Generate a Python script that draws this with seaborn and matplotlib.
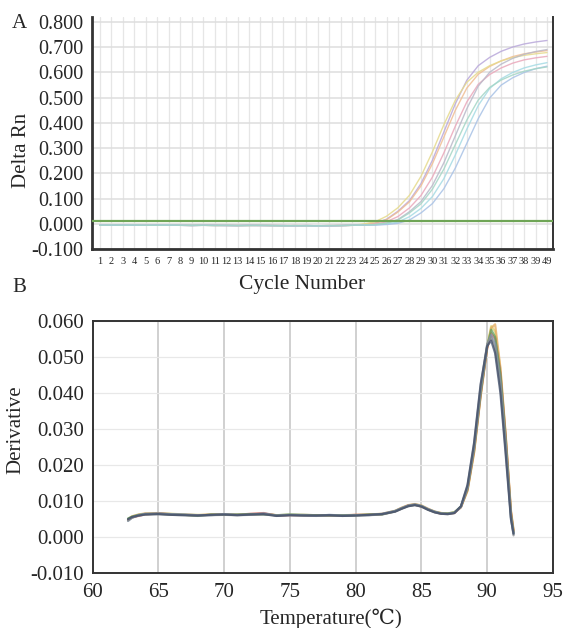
import pandas as pd
import matplotlib.pyplot as plt
import seaborn as sns

# ---------- data: panel A (amplification curves) ----------
cycles = list(range(1, 41))
cycle_labels = [str(c) for c in range(1, 40)] + ['49']
threshold = 0.013

# baseline, cycles 1-23
base_a = [-0.005, -0.006, -0.005, -0.006, -0.006, -0.005, -0.006, -0.006, -0.007, -0.006, -0.006, -0.007,
          -0.007, -0.006, -0.007, -0.007, -0.007, -0.008, -0.007, -0.008, -0.008, -0.007, -0.006]
base_b = [-0.006, -0.005, -0.006, -0.005, -0.006, -0.006, -0.005, -0.006, -0.006, -0.006, -0.007, -0.006,
          -0.007, -0.007, -0.006, -0.007, -0.008, -0.007, -0.008, -0.008, -0.007, -0.007, -0.006]

# cycles 24-40
rise_purple = [-0.003, 0.003, 0.018, 0.050, 0.092, 0.159, 0.252, 0.364, 0.476, 0.569, 0.627, 0.660, 0.684, 0.701, 0.713, 0.721, 0.727]
rise_orange = [-0.003, 0.002, 0.016, 0.047, 0.087, 0.150, 0.238, 0.344, 0.450, 0.538, 0.593, 0.624, 0.646, 0.663, 0.674, 0.681, 0.687]
rise_yellow = [-0.001, 0.008, 0.030, 0.064, 0.113, 0.188, 0.285, 0.393, 0.490, 0.561, 0.601, 0.627, 0.646, 0.659, 0.668, 0.674, 0.679]
rise_pink = [-0.005, -0.001, 0.008, 0.029, 0.063, 0.112, 0.185, 0.281, 0.387, 0.483, 0.553, 0.592, 0.618, 0.637, 0.650, 0.658, 0.664]
rise_gray = [-0.005, -0.003, 0.003, 0.017, 0.048, 0.088, 0.152, 0.242, 0.349, 0.456, 0.546, 0.601, 0.633, 0.656, 0.672, 0.683, 0.691]
rise_cyan = [-0.005, -0.005, -0.001, 0.007, 0.028, 0.061, 0.108, 0.179, 0.273, 0.375, 0.469, 0.537, 0.575, 0.600, 0.618, 0.630, 0.639]
rise_blue = [-0.006, -0.005, -0.003, 0.002, 0.015, 0.043, 0.080, 0.139, 0.221, 0.319, 0.417, 0.499, 0.550, 0.579, 0.600, 0.615, 0.625]
rise_teal = [-0.005, -0.003, 0.002, 0.015, 0.043, 0.079, 0.137, 0.217, 0.314, 0.411, 0.491, 0.541, 0.570, 0.590, 0.605, 0.615, 0.622]

amp_curves = {
    'purple': base_a + rise_purple,
    'orange': base_b + rise_orange,
    'yellow': base_a + rise_yellow,
    'pink': base_b + rise_pink,
    'gray': base_a + rise_gray,
    'cyan': base_b + rise_cyan,
    'blue': base_a + rise_blue,
    'teal': base_b + rise_teal,
}
amp_colors = {'purple': '#b9a8da', 'orange': '#f0bd93', 'yellow': '#e6da8c', 'pink': '#eaa8bb',
              'gray': '#b9b9c9', 'cyan': '#a6dbe4', 'blue': '#a8c2e6', 'teal': '#a4d6c6'}

# ---------- data: panel B (melt curves) ----------
temps = [62.7, 63.0, 63.5, 64.0, 65.0, 66.0, 67.0, 68.0, 69.0, 70.0, 71.0, 72.0, 73.0, 74.0, 75.0,
         76.0, 77.0, 78.0, 79.0, 80.0, 81.0, 82.0, 83.0, 83.5, 84.0, 84.5, 85.0, 85.5, 86.0, 86.5,
         87.0, 87.5, 88.0, 88.5, 89.0, 89.5, 90.0, 90.3, 90.6, 91.0, 91.4, 91.8, 92.0]

melt_navy = [0.0050, 0.0056, 0.0060, 0.0063, 0.0064, 0.0062, 0.0061, 0.0060, 0.0062, 0.0063, 0.0061, 0.0063,
             0.0064, 0.0059, 0.0061, 0.0060, 0.0060, 0.0061, 0.0059, 0.0060, 0.0062, 0.0064, 0.0071, 0.0079,
             0.0086, 0.0089, 0.0085, 0.0076, 0.0069, 0.0065, 0.0064, 0.0067, 0.0086, 0.0145, 0.0262, 0.0425,
             0.0530, 0.0545, 0.0510, 0.0400, 0.0230, 0.0050, 0.0010]
melt_steel = [0.0045, 0.0054, 0.0061, 0.0065, 0.0066, 0.0064, 0.0063, 0.0061, 0.0061, 0.0064, 0.0062, 0.0062,
              0.0066, 0.0060, 0.0062, 0.0061, 0.0059, 0.0062, 0.0060, 0.0061, 0.0061, 0.0065, 0.0073, 0.0081,
              0.0088, 0.0091, 0.0087, 0.0078, 0.0071, 0.0066, 0.0065, 0.0068, 0.0084, 0.0138, 0.0250, 0.0410,
              0.0535, 0.0560, 0.0535, 0.0430, 0.0255, 0.0055, 0.0008]
melt_green = [0.0052, 0.0057, 0.0062, 0.0064, 0.0065, 0.0063, 0.0062, 0.0059, 0.0063, 0.0062, 0.0063, 0.0064,
              0.0063, 0.0061, 0.0063, 0.0062, 0.0061, 0.0060, 0.0061, 0.0061, 0.0063, 0.0063, 0.0072, 0.0080,
              0.0087, 0.0090, 0.0086, 0.0077, 0.0070, 0.0066, 0.0066, 0.0069, 0.0085, 0.0135, 0.0245, 0.0400,
              0.0530, 0.0575, 0.0555, 0.0450, 0.0270, 0.0065, 0.0012]
melt_red = [0.0048, 0.0055, 0.0059, 0.0063, 0.0066, 0.0063, 0.0062, 0.0061, 0.0062, 0.0062, 0.0062, 0.0065,
            0.0067, 0.0060, 0.0061, 0.0061, 0.0060, 0.0060, 0.0060, 0.0062, 0.0062, 0.0064, 0.0072, 0.0080,
            0.0088, 0.0090, 0.0085, 0.0077, 0.0070, 0.0065, 0.0065, 0.0067, 0.0083, 0.0132, 0.0240, 0.0395,
            0.0525, 0.0565, 0.0550, 0.0455, 0.0280, 0.0070, 0.0015]
melt_orange = [0.0050, 0.0058, 0.0063, 0.0066, 0.0067, 0.0064, 0.0062, 0.0061, 0.0063, 0.0064, 0.0062, 0.0063,
               0.0065, 0.0061, 0.0062, 0.0062, 0.0061, 0.0061, 0.0061, 0.0062, 0.0063, 0.0065, 0.0073, 0.0082,
               0.0089, 0.0092, 0.0088, 0.0079, 0.0071, 0.0067, 0.0066, 0.0069, 0.0084, 0.0130, 0.0235, 0.0390,
               0.0525, 0.0580, 0.0590, 0.0470, 0.0285, 0.0075, 0.0020]
melt_yellow = [0.0047, 0.0055, 0.0061, 0.0065, 0.0066, 0.0065, 0.0063, 0.0062, 0.0062, 0.0063, 0.0063, 0.0064,
               0.0065, 0.0061, 0.0062, 0.0061, 0.0061, 0.0061, 0.0060, 0.0061, 0.0062, 0.0064, 0.0073, 0.0081,
               0.0088, 0.0091, 0.0087, 0.0078, 0.0071, 0.0067, 0.0066, 0.0068, 0.0083, 0.0128, 0.0235, 0.0395,
               0.0530, 0.0585, 0.0570, 0.0465, 0.0280, 0.0070, 0.0018]
melt_gray = [0.0046, 0.0054, 0.0060, 0.0063, 0.0064, 0.0062, 0.0061, 0.0060, 0.0061, 0.0062, 0.0061, 0.0062,
             0.0063, 0.0060, 0.0061, 0.0060, 0.0060, 0.0060, 0.0059, 0.0060, 0.0061, 0.0063, 0.0071, 0.0079,
             0.0086, 0.0089, 0.0085, 0.0076, 0.0069, 0.0065, 0.0064, 0.0067, 0.0085, 0.0142, 0.0258, 0.0420,
             0.0535, 0.0555, 0.0520, 0.0415, 0.0240, 0.0055, 0.0005]

melt_curves = {'yellow': melt_yellow, 'orange': melt_orange, 'red': melt_red, 'green': melt_green,
               'steel': melt_steel, 'gray': melt_gray, 'navy': melt_navy}
melt_colors = {'yellow': '#d9cf6a', 'orange': '#e3a85a', 'red': '#c46060', 'green': '#5f9e5f',
               'steel': '#7a94b4', 'gray': '#8c8c8c', 'navy': '#3d4b68'}

# ---------- style ----------
sns.set_theme(style="white")
plt.rcParams['font.family'] = ['Liberation Serif', 'DejaVu Serif']
plt.rcParams['axes.unicode_minus'] = False

fig = plt.figure(figsize=(5.63, 6.28), dpi=100)
ax_a = fig.add_axes([0.1634, 0.6035, 0.8188, 0.3694])
ax_b = fig.add_axes([0.1643, 0.0871, 0.8180, 0.4022])

# ---------- panel A ----------
amp_df = pd.concat([pd.DataFrame({'Cycle': cycles, 'Delta Rn': vals, 'well': name})
                    for name, vals in amp_curves.items()])
sns.lineplot(data=amp_df, x='Cycle', y='Delta Rn', hue='well', palette=amp_colors,
             linewidth=1.0, alpha=0.85, legend=False, ax=ax_a, zorder=3)
ax_a.axhline(threshold, color='#6fa556', linewidth=1.6, zorder=4)

ax_a.set_xlim(0.3, 40.52)
ax_a.set_ylim(-0.1, 0.82)
ax_a.set_xticks(cycles)
ax_a.set_xticklabels(cycle_labels, fontsize=7.5)
ax_a.set_yticks([i / 10 for i in range(-1, 9)])
ax_a.set_yticklabels([f'{i / 10:.3f}' for i in range(-1, 9)], fontsize=14.5)
ax_a.grid(True, axis='x', color='#e6e6e6', linewidth=0.9)
ax_a.grid(True, axis='y', color='#dedede', linewidth=1.1)
ax_a.tick_params(axis='both', length=0)
ax_a.tick_params(axis='x', pad=6)
ax_a.tick_params(axis='y', pad=6)
ax_a.set_xlabel('Cycle Number', fontsize=15.5)
ax_a.set_ylabel('Delta Rn', fontsize=15)
ax_a.xaxis.set_label_coords(0.455, -0.112)
ax_a.yaxis.set_label_coords(-0.132, 0.427)
ax_a.spines['top'].set_visible(False)
for side, lw in [('left', 2.0), ('bottom', 2.0), ('right', 1.4)]:
    ax_a.spines[side].set_color('#333333')
    ax_a.spines[side].set_linewidth(lw)

# ---------- panel B ----------
melt_df = pd.concat([pd.DataFrame({'Temperature': temps, 'Derivative': vals, 'well': name})
                     for name, vals in melt_curves.items()])
sns.lineplot(data=melt_df, x='Temperature', y='Derivative', hue='well', palette=melt_colors,
             linewidth=1.6, alpha=0.75, legend=False, ax=ax_b, zorder=3)

ax_b.set_xlim(60, 95)
ax_b.set_ylim(-0.010, 0.060)
ax_b.set_xticks(range(60, 96, 5))
ax_b.set_xticklabels([str(t) for t in range(60, 96, 5)], fontsize=15)
ax_b.set_yticks([i / 1000 for i in range(-10, 61, 10)])
ax_b.set_yticklabels([f'{i / 1000:.3f}' for i in range(-10, 61, 10)], fontsize=15)
ax_b.grid(True, axis='x', color='#c4c4c4', linewidth=1.1)
ax_b.grid(True, axis='y', color='#e8e8e8', linewidth=0.9)
ax_b.tick_params(axis='both', length=0)
ax_b.tick_params(axis='x', pad=7)
ax_b.tick_params(axis='y', pad=6)
ax_b.set_xlabel('Temperature(℃)', fontsize=15)
ax_b.set_ylabel('Derivative', fontsize=15)
ax_b.xaxis.set_label_coords(0.518, -0.138)
ax_b.yaxis.set_label_coords(-0.1466, 0.567)
for side in ['left', 'bottom', 'right', 'top']:
    ax_b.spines[side].set_color('#333333')
    ax_b.spines[side].set_linewidth(1.4)

# panel letters
fig.text(12 / 563, 1 - 24 / 628, 'A', fontsize=15, ha='left', va='center')
fig.text(12 / 563, 1 - 287 / 628, 'B', fontsize=15, ha='left', va='center')

fig.savefig('out.png', dpi=100)
